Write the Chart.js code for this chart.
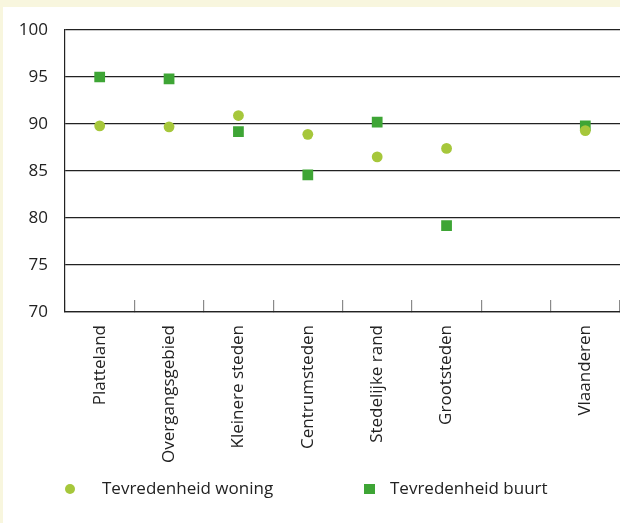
<!DOCTYPE html>
<html>
<head>
<meta charset="utf-8">
<script src="https://cdn.jsdelivr.net/npm/chart.js@4.4.0/dist/chart.umd.min.js"></script>
<style>
  html, body { margin: 0; padding: 0; }
  body { width: 620px; height: 523px; background: #f8f6de; position: relative; overflow: hidden; font-family: "Open Sans", sans-serif; color: #222; }
  #panel { position: absolute; left: 3px; top: 7px; width: 617px; height: 516px; background: #ffffff; }
  #wrap { position: absolute; left: 0; top: 0; width: 620px; height: 523px; }
  .lg { position: absolute; font-size: 17px; line-height: 20px; white-space: nowrap; }
  .mk { position: absolute; }
</style>
</head>
<body>
<div id="panel"></div>
<div id="wrap"><canvas id="c" width="620" height="523"></canvas></div>
<div class="mk" style="left:65px;top:484px;width:10px;height:10px;border-radius:50%;background:#a6c73b;"></div>
<div class="lg" style="left:102px;top:478px;">Tevredenheid woning</div>
<div class="mk" style="left:364px;top:484px;width:11px;height:10px;background:#3ea535;"></div>
<div class="lg" style="left:390px;top:478px;">Tevredenheid buurt</div>
<script>
const categories = ['Platteland', 'Overgangsgebied', 'Kleinere steden', 'Centrumsteden', 'Stedelijke rand', 'Grootsteden', '', 'Vlaanderen'];
const woning = [89.8, 89.7, 90.9, 88.9, 86.5, 87.4, null, 89.3];
const buurt = [95.0, 94.8, 89.2, 84.6, 90.2, 79.2, null, 89.8];
const yTicks = [70, 75, 80, 85, 90, 95, 100];

const FONT = { family: '"Open Sans", sans-serif', size: 17 };

new Chart(document.getElementById('c'), {
  type: 'line',
  data: {
    labels: categories,
    datasets: [
      {
        label: 'Tevredenheid woning',
        data: woning,
        showLine: false,
        pointStyle: 'circle',
        pointRadius: 5.4,
        pointBorderWidth: 0,
        backgroundColor: '#a6c73b',
        borderColor: '#a6c73b'
      },
      {
        label: 'Tevredenheid buurt',
        data: buurt,
        showLine: false,
        pointStyle: 'rect',
        pointRadius: 7.6,
        pointBorderWidth: 0,
        backgroundColor: '#3ea535',
        borderColor: '#3ea535'
      }
    ]
  },
  options: {
    responsive: false,
    animation: false,
    events: [],
    layout: { autoPadding: false, padding: { top: 30, right: 0, bottom: 0, left: 0 } },
    plugins: { legend: { display: false }, tooltip: { enabled: false } },
    scales: {
      x: {
        type: 'category',
        offset: true,
        grid: { offset: true, drawOnChartArea: false, drawTicks: true, tickLength: -12, color: '#8a8a8a', lineWidth: 1.2 },
        border: { display: true, color: '#222', width: 1.2 },
        ticks: { autoSkip: false, maxRotation: 90, minRotation: 90, padding: 25, color: '#222', font: FONT },
        afterFit: (s) => { s.height = 211; s.paddingRight = 0; s.paddingLeft = 0; }
      },
      y: {
        min: 70, max: 100,
        afterBuildTicks: (s) => { s.ticks = yTicks.map(v => ({ value: v })); },
        grid: { color: '#222', lineWidth: 1.2, drawTicks: false },
        border: { display: true, color: '#222', width: 1.2 },
        ticks: { padding: 17, color: '#222', font: FONT },
        afterFit: (s) => { s.width = 65; s.paddingTop = 0; s.paddingBottom = 0; }
      }
    }
  }
});
</script>
</body>
</html>
